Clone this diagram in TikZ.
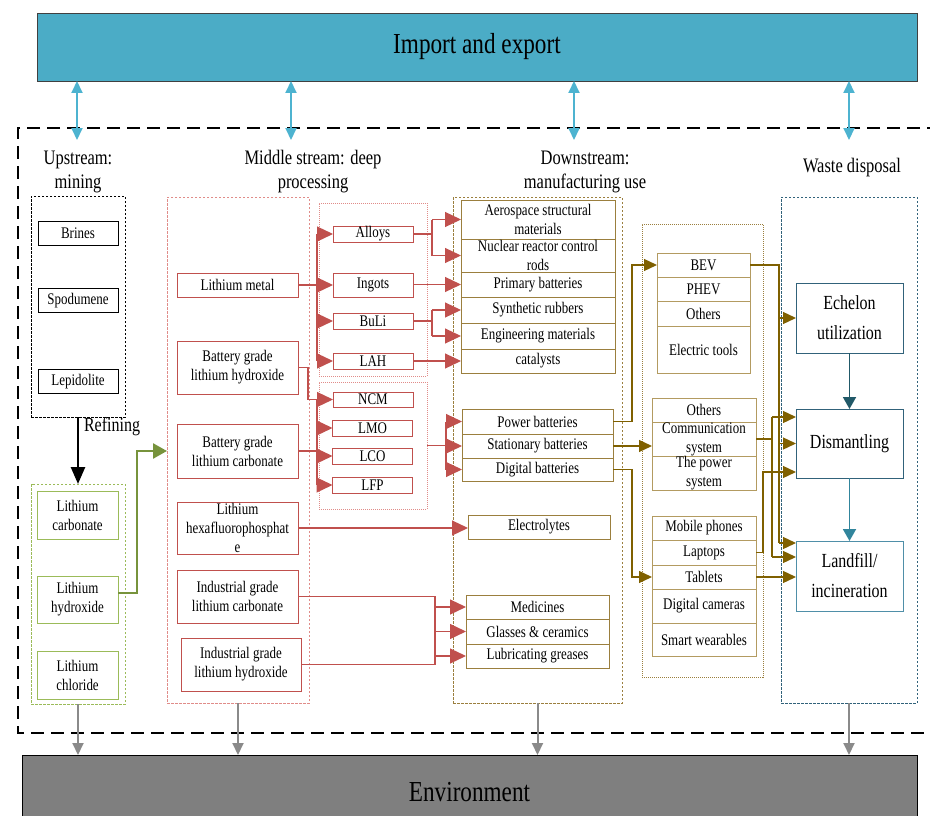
\documentclass[tikz,border=0pt]{standalone}
\usepackage{fontspec}
\setmainfont{Liberation Serif}[FakeStretch=0.8]
\usetikzlibrary{arrows.meta}
\definecolor{cBlue}{HTML}{4BACC6}
\definecolor{cBlueA}{HTML}{4DB3D0}
\definecolor{cGray}{HTML}{7F7F7F}
\definecolor{cGrayA}{HTML}{8A8A8A}
\definecolor{cRed}{HTML}{C0504D}
\definecolor{cRedL}{HTML}{E08C89}
\definecolor{cGreen}{HTML}{77933C}
\definecolor{cGreenL}{HTML}{9BBB59}
\definecolor{cOlive}{HTML}{9B7F3E}
\definecolor{cOliveL}{HTML}{B39B61}
\definecolor{cOliveD}{HTML}{7F6000}
\definecolor{cTeal}{HTML}{31627A}
\definecolor{cTealL}{HTML}{4F8FA8}
\definecolor{cTealA}{HTML}{215968}
\definecolor{cTealB}{HTML}{31859C}
\begin{document}
\begin{tikzpicture}[x=1pt,y=-1pt,
  every node/.style={inner sep=0pt, outer sep=0pt},
  bx/.style={draw, rectangle, align=center, font=\fontsize{16.2}{19}\selectfont},
  kbox/.style={bx, draw=black, line width=0.8pt},
  gbox/.style={bx, draw=cGreenL, line width=1pt},
  rbox/.style={bx, draw=cRed, line width=1pt},
  obox/.style={bx, draw=cOlive, line width=1pt},
  obox2/.style={bx, draw=cOliveL, line width=1pt},
  tbox/.style={bx, draw=cTeal, line width=1pt, font=\fontsize{20}{30}\selectfont},
  grp/.style={draw, rectangle, dash pattern=on 2.5pt off 1.5pt, line width=0.8pt},
  hdr/.style={align=center, font=\fontsize{20.6}{24}\selectfont},
  bigbox/.style={draw, rectangle, line width=0.8pt, font=\fontsize{29}{32}\selectfont},
  redarr/.style={draw=cRed, line width=1.2pt, -{Triangle[length=16pt,width=15pt]}},
  redln/.style={draw=cRed, line width=1.2pt},
  olarr/.style={draw=cOliveD, line width=1.3pt, -{Triangle[length=13pt,width=12pt]}},
  olln/.style={draw=cOliveD, line width=1.3pt},
  bluearr/.style={draw=cBlueA, line width=2pt, {Triangle[length=12pt,width=11pt]}-{Triangle[length=12pt,width=11pt]}},
  grayarr/.style={draw=cGrayA, line width=2pt, -{Triangle[length=12pt,width=11pt]}},
  blkarr/.style={draw=black, line width=2.5pt, -{Triangle[length=17pt,width=14pt]}},
  grnarr/.style={draw=cGreen, line width=2.5pt, -{Triangle[length=14pt,width=15pt]}},
  tarr/.style={line width=1.8pt, -{Triangle[length=12pt,width=13pt]}},
  outerd/.style={draw=black, line width=2.6pt, dash pattern=on 13pt off 7pt}
]
\useasboundingbox (0,0) rectangle (930,816);

% outer dashed frame
\draw[outerd] (940,128) -- (18,128) -- (18,733) -- (940,733);

% big boxes
\node[bigbox, fill=cBlue, draw=black!75, minimum width=880pt, minimum height=68pt] (imp) at (477,47) {Import and export};
\node[bigbox, fill=cGray, draw=black, minimum width=895pt, minimum height=75pt] (env) at (469.5,792.5) {Environment};

% headers
\node[hdr] (h1) at (78,172) {Upstream:\\mining};
\node[hdr] (h2) at (313,172) {Middle stream: deep\\processing};
\node[hdr] (h3) at (585,172) {Downstream:\\manufacturing use};
\node[hdr] (h4) at (852,168) {Waste disposal};

% group boxes
\node[grp, draw=black, minimum width=94pt, minimum height=221pt] (ug1) at (78,306.5) {};
\node[grp, draw=cGreenL, minimum width=94pt, minimum height=220pt] (ug2) at (78,594) {};
\node[grp, draw=cRedL, minimum width=142pt, minimum height=506pt] (mg) at (238,450) {};
\node[grp, draw=cRedL, dash pattern=on 1pt off 1pt, minimum width=108pt, minimum height=173pt] (sub1) at (373,289.5) {};
\node[grp, draw=cRedL, dash pattern=on 1pt off 1pt, minimum width=108pt, minimum height=127pt] (sub2) at (373,445.5) {};
\node[grp, draw=cOlive, minimum width=169pt, minimum height=506pt] (dg) at (537.5,450) {};
\node[grp, draw=cOlive, dash pattern=on 1pt off 1pt, minimum width=121pt, minimum height=453pt] (rg) at (702.5,450.5) {};
\node[grp, draw=cTeal, minimum width=136pt, minimum height=506pt] (wg) at (849,450) {};

% upstream
\node[kbox, minimum width=80pt, minimum height=24pt] (brines) at (78,233) {Brines};
\node[kbox, minimum width=80pt, minimum height=24pt] (spod) at (78,300.5) {Spodumene};
\node[kbox, minimum width=80pt, minimum height=24pt] (lepi) at (78,381.5) {Lepidolite};
\node[gbox, minimum width=81pt, minimum height=48pt] (lcarb) at (77.5,515) {Lithium\\carbonate};
\node[gbox, minimum width=81pt, minimum height=47pt] (lhyd) at (77.5,599.5) {Lithium\\hydroxide};
\node[gbox, minimum width=81pt, minimum height=48pt] (lchl) at (77.5,675) {Lithium\\chloride};
\node[font=\fontsize{20}{24}\selectfont] (refl) at (112,427) {Refining};

% middle stream
\node[rbox, minimum width=121pt, minimum height=24pt] (lm) at (237.5,285) {Lithium metal};
\node[rbox, minimum width=121pt, minimum height=53pt] (bglh) at (237.5,367.5) {Battery grade\\lithium hydroxide};
\node[rbox, minimum width=121pt, minimum height=54pt] (bglc) at (237.5,451) {Battery grade\\lithium carbonate};
\node[rbox, minimum width=121pt, minimum height=52pt] (lpf) at (237.5,528) {Lithium\\hexafluorophosphat\\e};
\node[rbox, minimum width=121pt, minimum height=53pt] (iglc) at (237.5,596.5) {Industrial grade\\lithium carbonate};
\node[rbox, minimum width=120pt, minimum height=53pt] (iglh) at (241,664.5) {Industrial grade\\lithium hydroxide};

\node[rbox, minimum width=80pt, minimum height=16pt] (alloys) at (373,234) {Alloys};
\node[rbox, minimum width=80pt, minimum height=24pt] (ingots) at (373,285) {Ingots};
\node[rbox, minimum width=80pt, minimum height=16pt] (buli) at (373,321) {BuLi};
\node[rbox, minimum width=80pt, minimum height=16pt] (lah) at (373,361) {LAH};
\node[rbox, minimum width=80pt, minimum height=15pt] (ncm) at (373,399.5) {NCM};
\node[rbox, minimum width=80pt, minimum height=16pt] (lmo) at (372.5,428) {LMO};
\node[rbox, minimum width=80pt, minimum height=16pt] (lco) at (372.5,456) {LCO};
\node[rbox, minimum width=80pt, minimum height=16pt] (lfp) at (372.5,485) {LFP};

% downstream
\node[obox, minimum width=154pt, minimum height=39pt] (aero) at (538,219.5) {Aerospace structural\\materials};
\node[obox, minimum width=154pt, minimum height=33pt] (nuc) at (538,255.5) {Nuclear reactor control\\rods};
\node[obox, minimum width=154pt, minimum height=25pt] (prim) at (538,284.5) {Primary batteries};
\node[obox, minimum width=154pt, minimum height=26pt] (synr) at (538,310) {Synthetic rubbers};
\node[obox, minimum width=154pt, minimum height=26pt] (eng) at (538,336) {Engineering materials};
\node[obox, minimum width=154pt, minimum height=24pt] (cat) at (538,361) {catalysts};
\node[obox, minimum width=151pt, minimum height=25pt] (pb) at (537.5,421.5) {Power batteries};
\node[obox, minimum width=151pt, minimum height=24pt] (sb) at (537.5,446) {Stationary batteries};
\node[obox, minimum width=151pt, minimum height=23pt] (db) at (537.5,469.5) {Digital batteries};
\node[obox, minimum width=142pt, minimum height=24pt] (ely) at (539,527) {Electrolytes};
\node[obox, minimum width=143pt, minimum height=24pt] (med) at (537.5,607) {Medicines};
\node[obox, minimum width=143pt, minimum height=25pt] (gls) at (537.5,631.5) {Glasses \& ceramics};
\node[obox, minimum width=143pt, minimum height=24pt] (lub) at (537.5,656) {Lubricating greases};

% applications
\node[obox2, minimum width=93pt, minimum height=24pt] (bev) at (703.5,265) {BEV};
\node[obox2, minimum width=93pt, minimum height=24pt] (phev) at (703.5,289) {PHEV};
\node[obox2, minimum width=93pt, minimum height=25pt] (oth1) at (703.5,313.5) {Others};
\node[obox2, minimum width=93pt, minimum height=47pt] (etool) at (703.5,349.5) {Electric tools};
\node[obox2, minimum width=104pt, minimum height=24pt] (oth2) at (704,410) {Others};
\node[obox2, minimum width=104pt, minimum height=34pt] (comm) at (704,439) {Communication\\system};
\node[obox2, minimum width=104pt, minimum height=34pt] (pwr) at (704,473) {The power\\system};
\node[obox2, minimum width=104pt, minimum height=24pt] (mob) at (704,528) {Mobile phones};
\node[obox2, minimum width=104pt, minimum height=25pt] (lap) at (704,552.5) {Laptops};
\node[obox2, minimum width=104pt, minimum height=24pt] (tab) at (704,577) {Tablets};
\node[obox2, minimum width=104pt, minimum height=34pt] (cam) at (704,606) {Digital cameras};
\node[obox2, minimum width=104pt, minimum height=33pt] (smw) at (704,639.5) {Smart wearables};

% waste
\node[tbox, minimum width=107pt, minimum height=70pt] (ech) at (849.5,318) {Echelon\\utilization};
\node[tbox, minimum width=107pt, minimum height=69pt] (dis) at (849.5,443.5) {Dismantling};
\node[tbox, draw=cTealL, minimum width=107pt, minimum height=70pt] (land) at (849.5,576) {Landfill/\\incineration};

% blue import/export arrows
\coordinate (a1) at (77,140);
\coordinate (a2) at (291,140);
\coordinate (a3) at (574,140);
\coordinate (a4) at (849,140);
\foreach \c in {a1,a2,a3,a4} \draw[bluearr] (imp.south -| \c) -- (\c);

% gray arrows to environment
\foreach \g in {ug2,mg,dg,wg} \draw[grayarr] (\g.south) -- (\g.south |- env.north);

% refining
\draw[blkarr] (ug1.south) -- (ug2.north);
% green arrow
\coordinate (g1) at (137,593);
\coordinate (gin) at (167,451);
\draw[grnarr] (lhyd.east |- g1) -- (g1) |- (gin);

% lithium metal
\coordinate (t1) at (317,0);
\draw[redln] (lm.east) -- (lm.east -| t1);
\draw[redln] (alloys.west -| t1) -- (lah.west -| t1);
\foreach \n in {alloys,ingots,buli,lah} \draw[redarr] (\n.west -| t1) -- (\n.west);
% battery materials
\coordinate (t2) at (308,0);
\draw[redarr] (bglh.east) -- (bglh.east -| t2) |- (ncm.west);
\draw[redln] (bglc.east) -- (bglc.east -| t1);
\draw[redln] (ncm.west -| t1) -- (lfp.west -| t1);
\foreach \n in {lmo,lco,lfp} \draw[redarr] (\n.west -| t1) -- (\n.west);
% to batteries
\coordinate (t3) at (446,0);
\draw[redln] (sub2.east) -- (sub2.east -| t3);
\draw[redln] (pb.west -| t3) -- (db.west -| t3);
\foreach \n in {pb,sb,db} \draw[redarr] (\n.west -| t3) -- (\n.west);
% alloys, ingots, buli, lah
\coordinate (t4) at (432,0);
\draw[redln] (alloys.east) -- (alloys.east -| t4);
\draw[redln] (aero.west -| t4) -- (nuc.west -| t4);
\draw[redarr] (aero.west -| t4) -- (aero.west);
\draw[redarr] (nuc.west -| t4) -- (nuc.west);
\draw[redarr] (ingots.east |- prim.west) -- (prim.west);
\draw[redln] (buli.east) -- (buli.east -| t4);
\draw[redln] (synr.west -| t4) -- (eng.west -| t4);
\draw[redarr] (synr.west -| t4) -- (synr.west);
\draw[redarr] (eng.west -| t4) -- (eng.west);
\draw[redarr] (lah.east) -- (cat.west |- lah.east);
% electrolytes
\draw[redarr] (lpf.east) -- (ely.west |- lpf.east);
% industrial grade
\coordinate (t5) at (435,0);
\draw[redln] (iglc.east) -- (iglc.east -| t5) -- (iglh.east -| t5) -- (iglh.east);
\foreach \n in {med,gls,lub} \draw[redarr] (\n.west -| t5) -- (\n.west);

% olive connectors
\coordinate (t6) at (632,0);
\draw[olarr] (pb.east) -- (pb.east -| t6) |- (bev.west);
\draw[olarr] (db.east) -- (db.east -| t6) |- (tab.west);
\draw[olarr] (sb.east) -- (comm.west |- sb.east);

\coordinate (v5) at (779,543);
\draw[olln] (bev.east) -| (v5);
\draw[olarr] (v5) -- (land.west |- v5);
\draw[olarr] (ech.west -| v5) -- (ech.west);
\draw[olarr] (dis.west -| v5) -- (dis.west);
\coordinate (c1) at (772,417);
\coordinate (c2) at (772,557);
\draw[olln] (comm.east) -- (comm.east -| c1);
\draw[olln] (c1) -- (c2);
\draw[olarr] (c1) -- (dis.west |- c1);
\draw[olarr] (c2) -- (land.west |- c2);
\coordinate (l1) at (763,472);
\draw[olarr] (lap.east) -| (l1) -- (dis.west |- l1);
\draw[olarr] (tab.east) -- (land.west |- tab.east);

% waste flow
\draw[tarr, draw=cTealA] (ech.south) -- (dis.north);
\draw[tarr, draw=cTealB] (dis.south) -- (land.north);
\end{tikzpicture}
\end{document}
